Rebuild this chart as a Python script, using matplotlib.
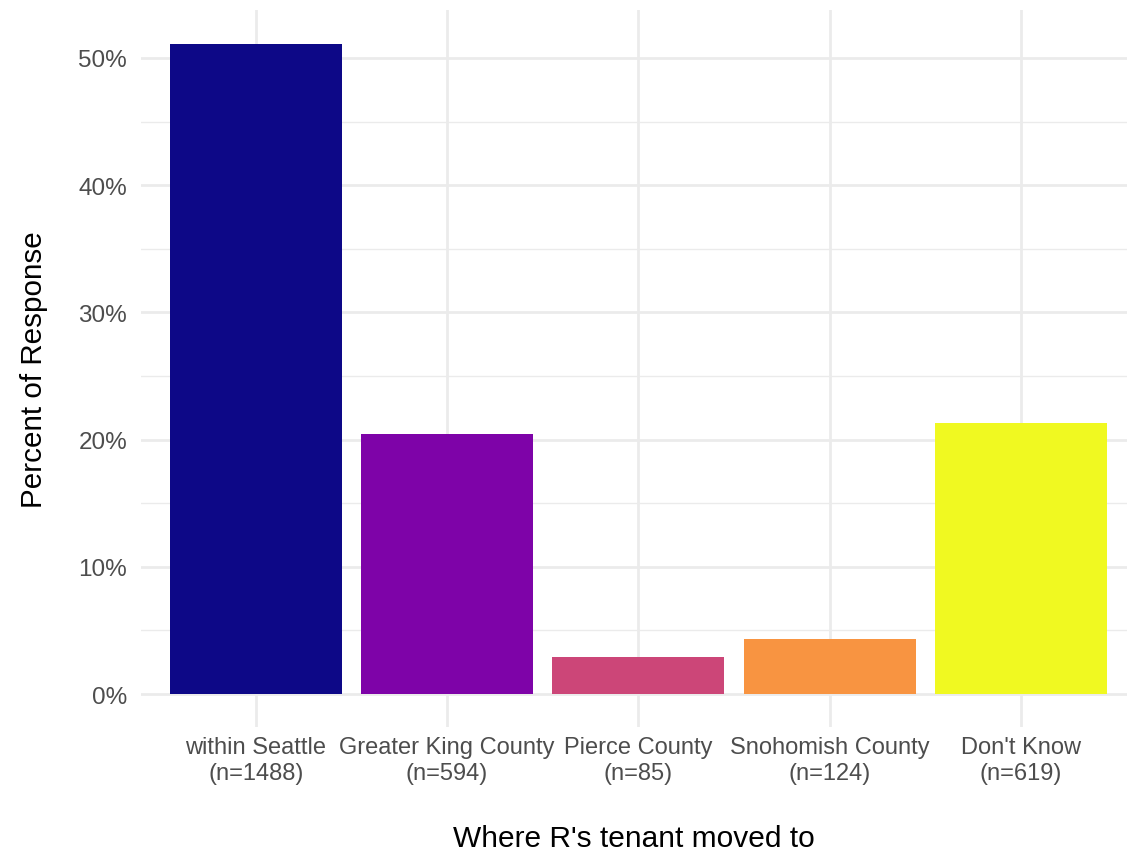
import numpy as np
import matplotlib.pyplot as plt
from matplotlib.ticker import MultipleLocator, FuncFormatter

plt.rcParams['font.family'] = ['Liberation Sans', 'DejaVu Sans']

# data
destinations = ["within Seattle", "Greater King County", "Pierce County",
                "Snohomish County", "Don't Know"]
counts = [1488, 594, 85, 124, 619]
percent = [51.1, 20.4, 2.9, 4.3, 21.3]
colors = ["#0D0887", "#7E03A8", "#CC4678", "#F89441", "#F0F921"]

labels = [f"{d}\n(n={n})" for d, n in zip(destinations, counts)]
x = np.arange(1, len(destinations) + 1)

fig = plt.figure(figsize=(11.27, 8.54), dpi=100)
ax = fig.add_axes([141 / 1127, 1 - 727.7 / 854, 1 - 141 / 1127, (727.7 - 11) / 854])

ax.bar(x, percent, width=0.9, color=colors, zorder=2)

ax.set_xlim(0.4, 1 + (1127 - 257) / 191)
ax.set_ylim(-2.57, 53.77)

ax.yaxis.set_major_locator(MultipleLocator(10))
ax.yaxis.set_minor_locator(MultipleLocator(5))
ax.yaxis.set_major_formatter(FuncFormatter(lambda v, p: f"{v:.0f}%"))
ax.set_xticks(x)
ax.set_xticklabels(labels, linespacing=1.2)

ax.grid(which='major', color='#EBEBEB', linewidth=2.0, zorder=0)
ax.grid(which='minor', axis='y', color='#EBEBEB', linewidth=1.0, zorder=0)
for s in ax.spines.values():
    s.set_visible(False)
ax.tick_params(which='both', length=0)
ax.tick_params(axis='y', labelsize=17.5, labelcolor='#4D4D4D', pad=10)
ax.tick_params(axis='x', labelsize=17, labelcolor='#4D4D4D', pad=7)

ax.set_ylabel("Percent of Response", fontsize=21.3, labelpad=22)
ax.set_xlabel("Where R's tenant moved to", fontsize=21.5, labelpad=29)

fig.savefig("out.png", dpi=100)
